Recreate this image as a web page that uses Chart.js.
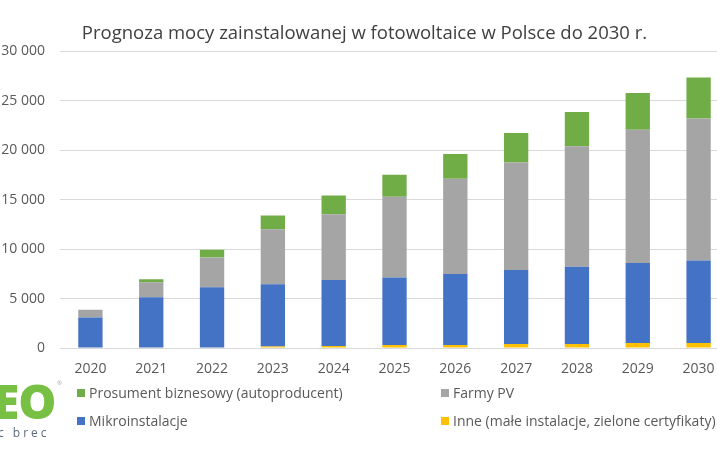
<!DOCTYPE html>
<html>
<head>
<meta charset="utf-8">
<script src="https://cdn.jsdelivr.net/npm/chart.js@4.4.0/dist/chart.umd.min.js"></script>
<style>
  html, body { margin: 0; padding: 0; background: #fff; overflow: hidden; width: 717px; height: 472px; }
  #wrap { position: relative; width: 729px; height: 472px; }
  canvas { position: absolute; left: 0; top: 0; }
  .leg { position: absolute; font-family: "Open Sans", sans-serif; font-size: 14px; color: #595959; white-space: nowrap; line-height: 18px; }
  .leg i { position: absolute; left: 0; top: 5px; width: 8px; height: 8px; }
  .leg span { position: absolute; left: 12px; top: 0; }
  #logo { position: absolute; left: -7px; top: 366px; font-family: "Open Sans", sans-serif; font-weight: 800; font-size: 48px; color: #77c043; letter-spacing: -1px; line-height: 70px; }
  #reg { position: absolute; left: 57px; top: 379px; font-family: "Open Sans", sans-serif; font-size: 6px; color: #aaa; }
  #sub { position: absolute; left: -2px; top: 424px; font-family: "Open Sans", sans-serif; font-size: 12px; color: #5b6b7d; letter-spacing: 3px; }
</style>
</head>
<body>
<div id="wrap">
  <canvas id="c" width="729" height="472"></canvas>
  <div id="legend"></div>
  <div id="logo">EO</div>
  <div id="reg">®</div>
  <div id="sub">c brec</div>
</div>
<script>
const categories = ['2020','2021','2022','2023','2024','2025','2026','2027','2028','2029','2030'];
const inne       = [50, 50, 50, 150, 200, 300, 300, 400, 400, 500, 500];
const mikro      = [3030, 5080, 6090, 6300, 6680, 6820, 7190, 7490, 7800, 8100, 8340];
const farmy      = [780, 1520, 3000, 5560, 6650, 8180, 9610, 10870, 12180, 13460, 14370];
const prosument  = [0, 300, 780, 1380, 1890, 2200, 2500, 2970, 3480, 3720, 4120];
const yTickValues = [0, 5000, 10000, 15000, 20000, 25000, 30000];
const yTickLabels = ['0', '5 000', '10 000', '15 000', '20 000', '25 000', '30 000'];
const seriesNames = ['Inne (małe instalacje, zielone certyfikaty)', 'Mikroinstalacje', 'Farmy PV', 'Prosument biznesowy (autoproducent)'];
const seriesColors = ['#FFC000', '#4472C4', '#A5A5A5', '#70AD47'];
const titleText = 'Prognoza mocy zainstalowanej w fotowoltaice w Polsce do 2030 r.';

const seriesData = [inne, mikro, farmy, prosument];
const datasets = seriesData.map((d, i) => ({
  label: seriesNames[i],
  data: d,
  backgroundColor: seriesColors[i],
  borderWidth: 0,
  categoryPercentage: 1.0,
  barPercentage: 0.4
}));

const FONT = '"Open Sans", sans-serif';

new Chart(document.getElementById('c'), {
  type: 'bar',
  data: { labels: categories, datasets },
  options: {
    responsive: false,
    animation: false,
    layout: { padding: { left: 0, right: 0, top: 0, bottom: 94 } },
    plugins: {
      legend: { display: false },
      tooltip: { enabled: false },
      title: {
        display: true,
        text: titleText,
        color: '#404040',
        font: { family: FONT, size: 18.5, weight: 'normal', lineHeight: 1.2 },
        padding: { top: 23, bottom: 6 }
      }
    },
    scales: {
      x: {
        stacked: true,
        grid: { display: false, drawTicks: false },
        border: { display: false },
        ticks: { color: '#595959', font: { family: FONT, size: 14 }, padding: 13, maxRotation: 0 },
        afterFit: (s) => { s.height = 30; }
      },
      y: {
        stacked: true,
        min: 0,
        max: 30000,
        afterBuildTicks: (s) => { s.ticks = yTickValues.map(v => ({ value: v })); },
        grid: { color: '#d9d9d9', lineWidth: 1, drawTicks: false },
        border: { display: false },
        ticks: {
          color: '#595959',
          font: { family: FONT, size: 14 },
          padding: 15,
          callback: (v) => yTickLabels[yTickValues.indexOf(v)]
        },
        afterFit: (s) => { s.width = 60; }
      }
    }
  }
});

// HTML legend built from the series arrays (order as in reference)
const legendOrder = [3, 2, 1, 0];
const legendPos = [[77, 384], [441, 384], [77, 412], [441, 412]];
const legendEl = document.getElementById('legend');
legendOrder.forEach((si, k) => {
  const d = document.createElement('div');
  d.className = 'leg';
  d.style.left = legendPos[k][0] + 'px';
  d.style.top = legendPos[k][1] + 'px';
  d.innerHTML = '<i style="background:' + seriesColors[si] + '"></i><span>' + seriesNames[si] + '</span>';
  legendEl.appendChild(d);
});
</script>
</body>
</html>
